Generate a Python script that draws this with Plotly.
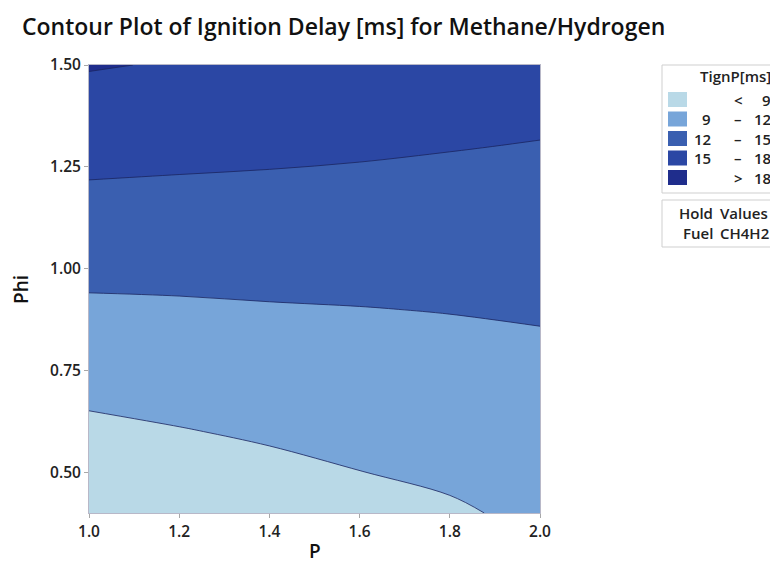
import plotly.graph_objects as go

# ---------------- data ----------------
P_vals = [1.0, 1.2, 1.4, 1.6, 1.8, 2.0]
Phi_vals = [0.4, 0.5, 0.6, 0.7, 0.8, 0.9, 1.0, 1.1, 1.2, 1.3, 1.4, 1.5]
# TignP [ms]; rows follow Phi_vals, columns follow P_vals
Tign = [
    [6.41, 7.02, 7.61, 8.23, 8.71, 9.47],
    [7.44, 7.96, 8.45, 8.97, 9.38, 10.02],
    [8.47, 8.89, 9.30, 9.71, 10.05, 10.56],
    [9.51, 9.82, 10.14, 10.46, 10.72, 11.11],
    [10.54, 10.75, 10.99, 11.20, 11.40, 11.66],
    [11.57, 11.68, 11.83, 11.94, 12.08, 12.24],
    [12.63, 12.66, 12.74, 12.78, 12.83, 12.91],
    [13.72, 13.67, 13.66, 13.62, 13.58, 13.57],
    [14.80, 14.68, 14.58, 14.47, 14.34, 14.23],
    [15.92, 15.71, 15.54, 15.33, 15.10, 14.89],
    [17.05, 16.76, 16.52, 16.23, 15.90, 15.59],
    [18.18, 17.81, 17.50, 17.13, 16.70, 16.29],
]
levels = [9, 12, 15, 18]
band_lo = ["", "9", "12", "15", ""]
band_sep = ["<", "–", "–", "–", ">"]
band_hi = ["9", "12", "15", "18", "18"]
band_colors = ["#b9d9e7", "#77a5d9", "#3a5fb0", "#2b47a4", "#1f2d8c"]
x_ticks = [1.0, 1.2, 1.4, 1.6, 1.8, 2.0]
y_ticks = [0.50, 0.75, 1.00, 1.25, 1.50]
hold_names = ["Hold", "Fuel"]
hold_vals = ["Values", "CH4H2"]

# ---------------- figure ----------------
OFF = 8  # page body margin in the browser
W, H = 778 - OFF, 565 - OFF
# target pixel positions in the window, converted to figure pixels
L, R, T, B = 89 - OFF, 540 - OFF, 65 - OFF, 513 - OFF

step = 1.0 / len(band_colors)
cscale = []
for i, c in enumerate(band_colors):
    cscale.append([i * step, c])
    cscale.append([(i + 1) * step, c])

lvl_size = levels[1] - levels[0]
fig = go.Figure(go.Contour(
    x=P_vals, y=Phi_vals, z=Tign,
    contours=dict(start=levels[0], end=levels[-1], size=lvl_size, coloring="fill"),
    colorscale=cscale, zauto=False,
    zmin=levels[0] - lvl_size / 2, zmax=levels[-1] + lvl_size / 2,
    line=dict(color="#1b2460", width=0.8),
    showscale=False, hoverinfo="skip",
))

FONT = "Open Sans"
tickfont = dict(family=FONT, size=15.5, color="#222222", weight=600)

fig.update_layout(
    width=W, height=H,
    margin=dict(l=L, r=W - R, t=T, b=H - B, pad=0),
    paper_bgcolor="white", plot_bgcolor="white",
    title=dict(text="Contour Plot of Ignition Delay [ms] for Methane/Hydrogen",
               x=(22 - OFF) / W, xanchor="left", y=1 - (27 - OFF) / H, yanchor="middle",
               font=dict(family=FONT, size=23, color="#111111", weight=600)),
    xaxis=dict(range=[1.0, 2.0], tickvals=x_ticks, tickformat=".1f",
               ticks="outside", ticklen=4, tickcolor="#a8a8a8",
               showline=True, linecolor="#b8b8c8", linewidth=1, mirror=True,
               showgrid=False, zeroline=False, tickfont=tickfont),
    yaxis=dict(range=[0.4, 1.5], tickvals=y_ticks, tickformat=".2f",
               ticks="outside", ticklen=4, tickcolor="#a8a8a8",
               showline=True, linecolor="#b8b8c8", linewidth=1, mirror=True,
               showgrid=False, zeroline=False, tickfont=tickfont),
)

def px(x):
    return (x - OFF - L) / (R - L)

def py(y):
    return (B - (y - OFF)) / (B - T)

shapes = []
annos = []
legfont = dict(family=FONT, size=15, color="#222222", weight=600)
axtitlefont = dict(family=FONT, size=19, color="#111111", weight=600)

# axis titles
annos.append(dict(xref="paper", yref="paper", x=px(315), y=py(551), xanchor="center", yanchor="middle",
                  text="P", showarrow=False, font=axtitlefont))
annos.append(dict(xref="paper", yref="paper", x=px(21), y=py(290), xanchor="center", yanchor="middle",
                  text="Phi", textangle=-90, showarrow=False, font=axtitlefont))

# legend box
shapes.append(dict(type="rect", xref="paper", yref="paper",
                   x0=px(662), x1=px(777), y0=py(193), y1=py(65),
                   line=dict(color="#cfcfcf", width=1), fillcolor="white", layer="above"))
annos.append(dict(xref="paper", yref="paper", x=px(773), y=py(76), xanchor="right", yanchor="middle",
                  text="TignP[ms]", showarrow=False, font=legfont))
for i, c in enumerate(band_colors):
    cy = 99.5 + 19.5 * i
    shapes.append(dict(type="rect", xref="paper", yref="paper",
                       x0=px(668), x1=px(687), y0=py(cy + 7.5), y1=py(cy - 7.5),
                       line=dict(width=0), fillcolor=c, layer="above"))
    if band_lo[i]:
        annos.append(dict(xref="paper", yref="paper", x=px(713), y=py(cy), xanchor="right", yanchor="middle",
                          text=band_lo[i], showarrow=False, font=legfont))
    annos.append(dict(xref="paper", yref="paper", x=px(738), y=py(cy), xanchor="center", yanchor="middle",
                      text=band_sep[i], showarrow=False, font=legfont))
    annos.append(dict(xref="paper", yref="paper", x=px(773), y=py(cy), xanchor="right", yanchor="middle",
                      text=band_hi[i], showarrow=False, font=legfont))

# hold values box
shapes.append(dict(type="rect", xref="paper", yref="paper",
                   x0=px(662), x1=px(777), y0=py(247), y1=py(200),
                   line=dict(color="#cfcfcf", width=1), fillcolor="white", layer="above"))
for j, (nm, vl) in enumerate(zip(hold_names, hold_vals)):
    cy = 213 + 20 * j
    annos.append(dict(xref="paper", yref="paper", x=px(715), y=py(cy), xanchor="right", yanchor="middle",
                      text=nm, showarrow=False, font=legfont))
    annos.append(dict(xref="paper", yref="paper", x=px(718), y=py(cy), xanchor="left", yanchor="middle",
                      text=vl, showarrow=False, font=legfont))

fig.update_layout(shapes=shapes, annotations=annos)
fig.write_html("out.html")
